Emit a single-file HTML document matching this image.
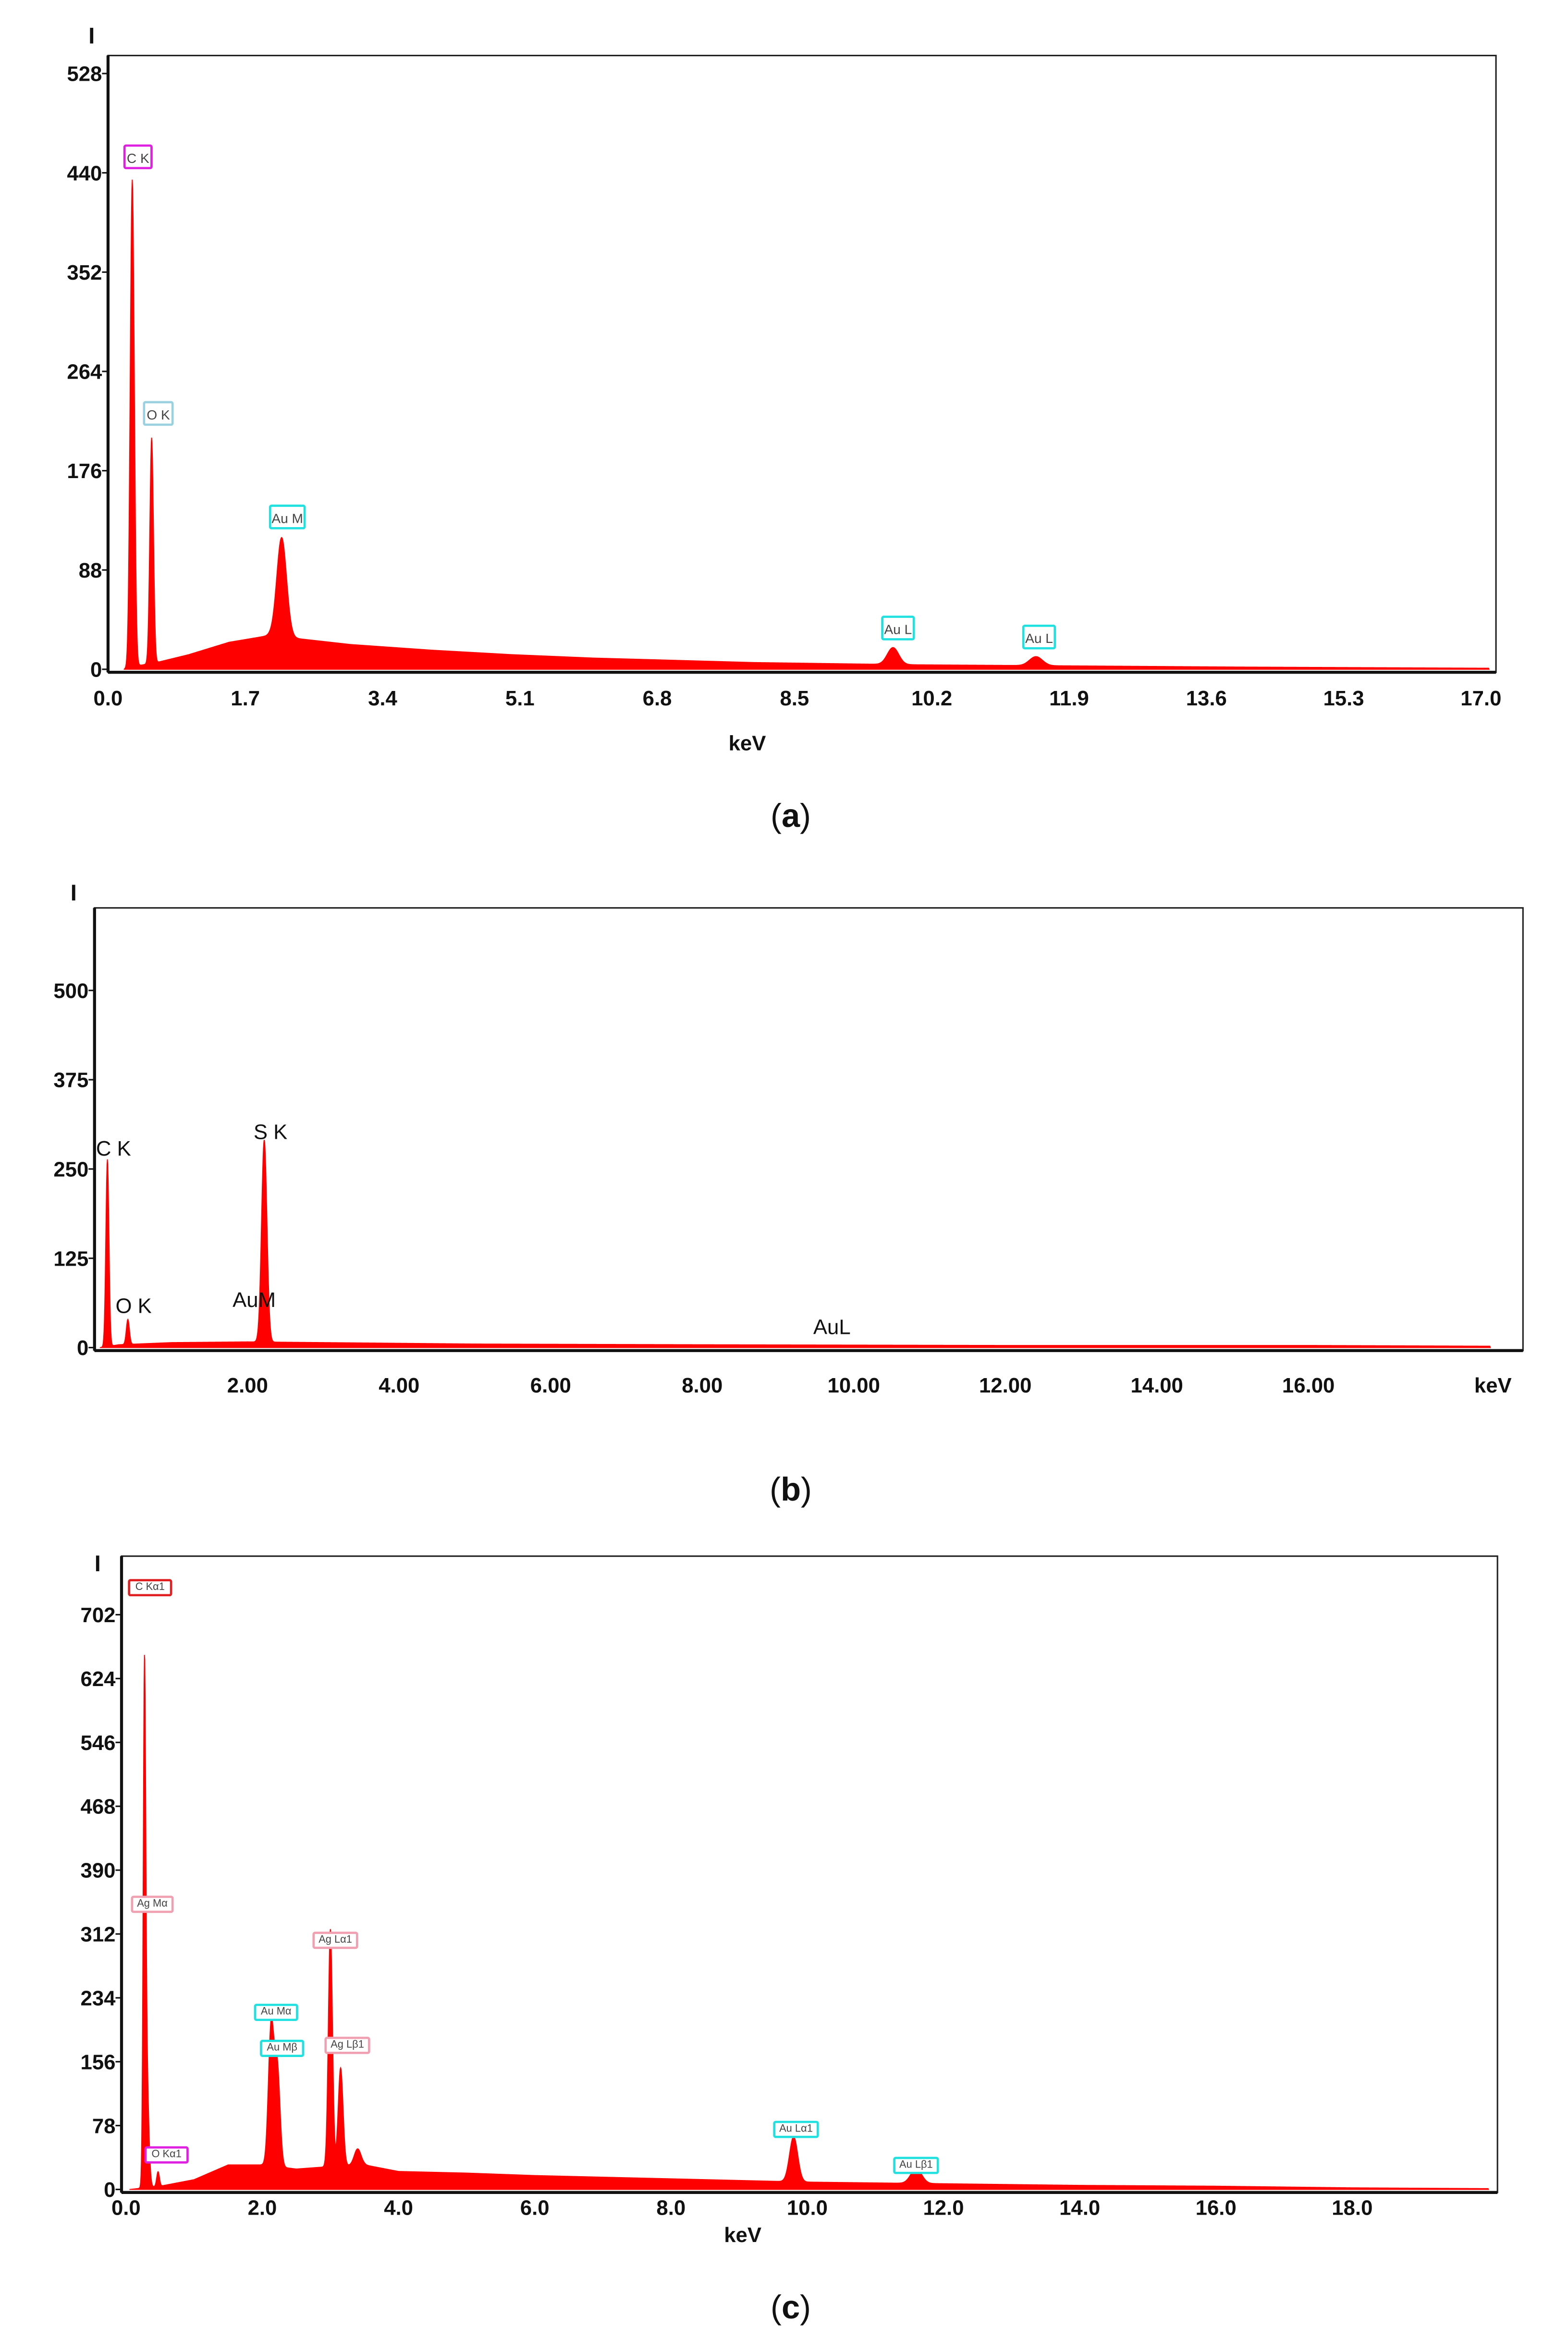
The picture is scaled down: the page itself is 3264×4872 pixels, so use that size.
<!DOCTYPE html>
<html><head><meta charset="utf-8">
<style>
html,body{margin:0;padding:0;background:#fff;}
svg{display:block;}
text{font-family:"Liberation Sans",Arial,sans-serif;}
</style></head>
<body>
<svg id="fig" width="3264" height="4872" viewBox="0 0 1045 1560" preserveAspectRatio="none" xmlns="http://www.w3.org/2000/svg">
<rect width="1045" height="1560" fill="#fff"/>
</svg>
<script>
// ---------- Panel (a) data ----------
const aBgE = [0.2,0.35,0.6,1.0,1.5,2.0,2.5,3.0,4.0,5.0,6.0,7.0,8.0,9.0,10.0,12.0,14.0,17.0];
const aBgI = [0,3,6,13,24,30,26,22,17,13,10,8,6,5,4,3,2,1];
const aPeakE = [0.30,0.54,2.15,9.72,11.49];
const aPeakH = [432,200,88,15,8];
const aPeakW = [0.025,0.022,0.06,0.07,0.08];
const aYTicks = [0,88,176,264,352,440,528];
const aXTicks = ["0.0","1.7","3.4","5.1","6.8","8.5","10.2","11.9","13.6","15.3","17.0"];
// ---------- Panel (b) data ----------
const bBgE = [0.05,0.3,1.0,2.0,3.0,5.0,8.0,12.0,16.0,18.3];
const bBgI = [0,4,7,8,7,5,4,3,3,2];
const bPeakE = [0.15,0.42,2.22];
const bPeakH = [262,35,283];
const bPeakW = [0.02,0.02,0.035];
const bYTicks = [0,125,250,375,500];
const bXTicks = ["2.00","4.00","6.00","8.00","10.00","12.00","14.00","16.00"];
// ---------- Panel (c) data ----------
const cBgE = [0.05,0.5,1.0,1.5,2.0,2.5,3.0,3.5,4.0,5.0,6.0,8.0,10.0,12.0,14.0,16.0,18.0,20.0];
const cBgI = [0,4,12,30,30,25,28,30,22,20,17,13,9,7,5,4,2,1];
const cPeakE = [0.27,0.30,0.47,2.13,2.22,3.0,3.15,3.4,9.8,11.6];
const cPeakH = [560,150,18,170,120,290,120,20,55,18];
const cPeakW = [0.018,0.03,0.02,0.04,0.04,0.03,0.035,0.05,0.06,0.08];
const cYTicks = [0,78,156,234,312,390,468,546,624,702];
const cXTicks = ["0.0","2.0","4.0","6.0","8.0","10.0","12.0","14.0","16.0","18.0"];

const NS="http://www.w3.org/2000/svg";
const svg=document.getElementById('fig');
function el(tag,attrs,parent){const e=document.createElementNS(NS,tag);for(const k in attrs)e.setAttribute(k,attrs[k]);(parent||svg).appendChild(e);return e;}
function interp(xs,ys,x){if(x<=xs[0])return ys[0];for(let i=1;i<xs.length;i++){if(x<=xs[i]){const t=(x-xs[i-1])/(xs[i]-xs[i-1]);return ys[i-1]+t*(ys[i]-ys[i-1]);}}return ys[ys.length-1];}
function profile(bgE,bgI,pE,pH,pW,x){let v=interp(bgE,bgI,x);for(let i=0;i<pE.length;i++){v+=pH[i]*Math.exp(-Math.pow(x-pE[i],2)/(2*pW[i]*pW[i]));}return v;}

function panel(cfg){
  const g=el('g',{});
  
  
  const X=e=>cfg.x0+e*cfg.kx, Y=v=>cfg.y0-v*cfg.ky;
  const fr=el('rect',{x:cfg.fl,y:cfg.ft,width:cfg.fr-cfg.fl,height:cfg.y0-cfg.ft+2,fill:'none',stroke:'#222','stroke-width':1},g);
  
  
  el('line',{x1:cfg.fl,y1:cfg.ft,x2:cfg.fl,y2:cfg.y0+2,stroke:'#111','stroke-width':2},g);
  el('line',{x1:cfg.fl,y1:cfg.y0+2,x2:cfg.fr,y2:cfg.y0+2,stroke:'#111','stroke-width':2},g);
  let d='M'+X(cfg.eStart).toFixed(2)+','+Y(0).toFixed(2);
  for(let e=cfg.eStart;e<=cfg.eEnd;e+=0.005){
    const v=Math.min(profile(cfg.bgE,cfg.bgI,cfg.pE,cfg.pH,cfg.pW,e),cfg.vmax);
    d+='L'+X(e).toFixed(2)+','+Y(v).toFixed(2);
  }
  d+='L'+X(cfg.eEnd).toFixed(2)+','+Y(0).toFixed(2)+'Z';
  const sp=el('path',{d:d,fill:'#ff0000',stroke:'#f00','stroke-width':0.6},g);
  
  
  cfg.yT.forEach(v=>{
    const t=el('text',{x:cfg.fl-4+cfg.ylabDx,y:Y(v)+5,'text-anchor':'end','font-size':14,'font-weight':'bold',fill:'#111'},g);
    t.textContent=v;
    
    
    el('line',{x1:cfg.fl-4,y1:Y(v),x2:cfg.fl,y2:Y(v),stroke:'#111','stroke-width':1},g);
  });
  cfg.xT.forEach(s=>{
    const v=parseFloat(s);
    const t=el('text',{x:X(v),y:cfg.y0+cfg.xlabDy,'text-anchor':'middle','font-size':14,'font-weight':'bold',fill:'#111'},g);
    t.textContent=s;
    
    
  });
  const yt=el('text',{x:cfg.ilx,y:cfg.ily,'font-size':15,'font-weight':'bold',fill:'#111'},g);
  yt.textContent='I';
  
  
  const xt=el('text',{x:cfg.kevX,y:cfg.kevY,'text-anchor':'middle','font-size':14,'font-weight':'bold',fill:'#111'},g);
  xt.textContent='keV';
  
  
  const cap=el('text',{x:527,y:cfg.capY,'text-anchor':'middle','font-size':22,fill:'#111','font-family':'Liberation Serif, serif'},g);
  cap.innerHTML='(<tspan font-weight="bold">'+cfg.cap+'</tspan>)';
  
  
  return g;
}
function box(g,x,y,w,h,label,color){
  const r=el('rect',{x:x,y:y,width:w,height:h,fill:'#fff',stroke:color,'stroke-width':1.5,rx:1},g);
  
  
  const t=el('text',{x:x+w/2,y:y+h-3.5,'text-anchor':'middle','font-size':Math.min(9,h-3),fill:'#444'},g);
  t.textContent=label;
  
  
}
function plain(g,x,y,label){
  const t=el('text',{x:x,y:y,'font-size':14,fill:'#111'},g);
  t.textContent=label;
  
  
}

const ga=panel({name:'panel-a',fl:72,fr:997,ft:37,x0:72,kx:915/17,y0:446,ky:397/528,eStart:0.2,eEnd:17.1,vmax:540,
  bgE:aBgE,bgI:aBgI,pE:aPeakE,pH:aPeakH,pW:aPeakW,yT:aYTicks,xT:aXTicks,ylabDx:0,xlabDy:24,ilx:59,ily:29,kevX:498,kevY:500,capY:551,cap:'a'});
box(ga,83,97,18,15,'C K','#e020e0');
box(ga,96,268,19,15,'O K','#9ad0e0');
box(ga,180,337,23,15,'Au M','#20e0e0');
box(ga,588,411,21,15,'Au L','#20e0e0');
box(ga,682,417,21,15,'Au L','#20e0e0');

const gb=panel({name:'panel-b',fl:63,fr:1015,ft:605,x0:64,kx:50.5,y0:898,ky:238/500,eStart:0.05,eEnd:18.4,vmax:600,
  bgE:bBgE,bgI:bBgI,pE:bPeakE,pH:bPeakH,pW:bPeakW,yT:bYTicks,xT:bXTicks,ylabDx:0,xlabDy:30,ilx:47,ily:600,kevX:995,kevY:928,capY:1000,cap:'b'});
plain(gb,64,770,'C K');
plain(gb,169,759,'S K');
plain(gb,77,875,'O K');
plain(gb,155,871,'AuM');
plain(gb,542,889,'AuL');

const gc=panel({name:'panel-c',fl:81,fr:998,ft:1037,x0:84,kx:45.4,y0:1459,ky:383/702,eStart:0.05,eEnd:20.0,vmax:760,
  bgE:cBgE,bgI:cBgI,pE:cPeakE,pH:cPeakH,pW:cPeakW,yT:cYTicks,xT:cXTicks,ylabDx:0,xlabDy:17,ilx:63,ily:1047,kevX:495,kevY:1494,capY:1545,cap:'c'});
box(gc,86,1053,28,10,'C Kα1','#e02020');
box(gc,88,1264,27,10,'Ag Mα','#f0a0b0');
box(gc,97,1431,28,10,'O Kα1','#e020e0');
box(gc,170,1336,28,10,'Au Mα','#20e0e0');
box(gc,174,1360,28,10,'Au Mβ','#20e0e0');
box(gc,209,1288,29,10,'Ag Lα1','#f0a0b0');
box(gc,217,1358,29,10,'Ag Lβ1','#f0a0b0');
box(gc,516,1414,29,10,'Au Lα1','#20e0e0');
box(gc,596,1438,29,10,'Au Lβ1','#20e0e0');
</script>
</body></html>
